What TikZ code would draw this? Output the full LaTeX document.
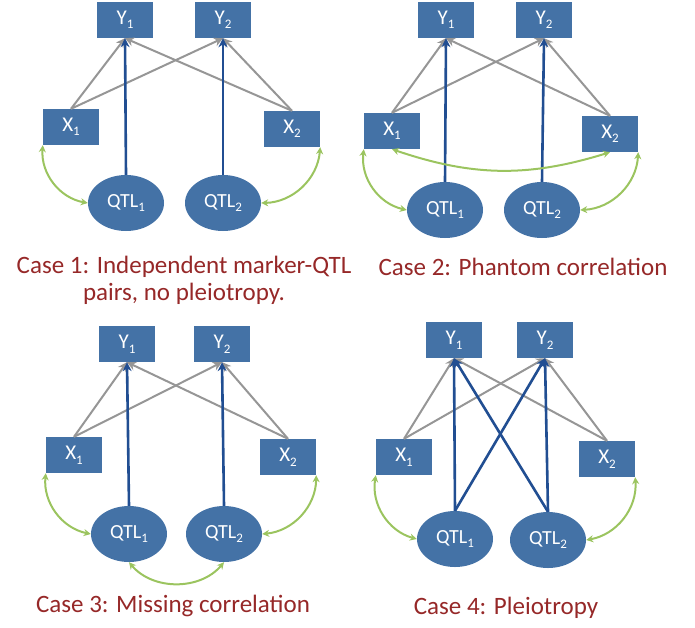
\documentclass[tikz,border=0pt]{standalone}
\usepackage{fontspec}
\setmainfont{Carlito}
\usetikzlibrary{arrows.meta,shapes.geometric}
\definecolor{boxblue}{RGB}{68,114,166}
\definecolor{arrblue}{RGB}{33,78,146}
\definecolor{arrgray}{RGB}{150,150,150}
\definecolor{corgreen}{RGB}{155,196,95}
\definecolor{capred}{RGB}{150,40,40}
\newcommand{\sbs}[1]{\raisebox{-0.45ex}{\fontsize{13}{13}\selectfont #1}}
\begin{document}
\begin{tikzpicture}[x=1pt,y=-1pt,
  box/.style={rectangle, fill=boxblue, minimum width=56pt, minimum height=36pt, inner sep=0pt, text=white, font=\fontsize{21}{21}\selectfont},
  qtl/.style={ellipse, fill=boxblue, minimum width=76pt, minimum height=56pt, inner sep=0pt, text=white, font=\fontsize{20}{20}\selectfont},
  gr/.style={draw=arrgray, line width=2pt, -{Stealth[length=9pt,width=9pt]}},
  bl/.style={draw=arrblue, line width=2.6pt, -{Stealth[length=9pt,width=9pt]}},
  cor/.style={draw=corgreen, line width=2pt, {Stealth[length=7pt,width=7pt]}-{Stealth[length=7pt,width=7pt]}},
  captext/.style={text=capred, font=\fontsize{25}{27}\selectfont, anchor=base, inner sep=0pt}
]
\useasboundingbox (0,0) rectangle (695,627);

% ---------- Panel 1 ----------
\node[box] (aY1) at (125,20) {Y\sbs{1}};
\node[box] (aY2) at (223,20) {Y\sbs{2}};
\node[box] (aX1) at (71,127) {X\sbs{1}};
\node[box] (aX2) at (292,129) {X\sbs{2}};
\node[qtl] (aQ1) at (126,203) {QTL\sbs{1}};
\node[qtl] (aQ2) at (223,203) {QTL\sbs{2}};
\draw[gr] (aX1.north) -- (aY1.south);
\draw[gr] (aX1.north) -- (aY2.south);
\draw[gr] (aX2.north) -- (aY1.south);
\draw[gr] (aX2.north) -- (aY2.south);
\draw[bl] (aQ1.north) -- (aY1.south);
\draw[bl] (aQ2.north) -- (aY2.south);
\draw[cor] (aX1.south west) to[bend right=42] (aQ1.west);
\draw[cor] (aX2.south east) to[bend left=42] (aQ2.east);
\node[captext] (aC1) at (184,273) {Case 1: Independent marker-QTL};
\node[captext] (aC2) at (184,300) {pairs, no pleiotropy.};

% ---------- Panel 2 ----------
\node[box] (bY1) at (446,20) {Y\sbs{1}};
\node[box] (bY2) at (544,20) {Y\sbs{2}};
\node[box] (bX1) at (392,131) {X\sbs{1}};
\node[box] (bX2) at (610,134) {X\sbs{2}};
\node[qtl] (bQ1) at (445,210) {QTL\sbs{1}};
\node[qtl] (bQ2) at (542,210) {QTL\sbs{2}};
\draw[gr] (bX1.north) -- (bY1.south);
\draw[gr] (bX1.north) -- (bY2.south);
\draw[gr] (bX2.north) -- (bY1.south);
\draw[gr] (bX2.north) -- (bY2.south);
\draw[bl] (bQ1.north) -- (bY1.south);
\draw[bl] (bQ2.north) -- (bY2.south);
\draw[cor] (bX1.south west) to[bend right=42] (bQ1.west);
\draw[cor] (bX2.south east) to[bend left=42] (bQ2.east);
\draw[cor] (bX1.south) to[bend right=18] (bX2.south);
\node[captext] (bC1) at (523,275) {Case 2: Phantom correlation};

% ---------- Panel 3 ----------
\node[box] (cY1) at (127,344) {Y\sbs{1}};
\node[box] (cY2) at (222,344) {Y\sbs{2}};
\node[box] (cX1) at (74,455) {X\sbs{1}};
\node[box] (cX2) at (288,457) {X\sbs{2}};
\node[qtl] (cQ1) at (129,534) {QTL\sbs{1}};
\node[qtl] (cQ2) at (224,534) {QTL\sbs{2}};
\draw[gr] (cX1.north) -- (cY1.south);
\draw[gr] (cX1.north) -- (cY2.south);
\draw[gr] (cX2.north) -- (cY1.south);
\draw[gr] (cX2.north) -- (cY2.south);
\draw[bl] (cQ1.north) -- (cY1.south);
\draw[bl] (cQ2.north) -- (cY2.south);
\draw[cor] (cX1.south west) to[bend right=42] (cQ1.west);
\draw[cor] (cX2.south east) to[bend left=42] (cQ2.east);
\draw[cor] (cQ1.south) to[bend right=50] (cQ2.south);
\node[captext] (cC1) at (173,612) {Case 3: Missing correlation};

% ---------- Panel 4 ----------
\node[box] (dY1) at (454,340) {Y\sbs{1}};
\node[box] (dY2) at (545,340) {Y\sbs{2}};
\node[box] (dX1) at (404,457) {X\sbs{1}};
\node[box] (dX2) at (607,459) {X\sbs{2}};
\node[qtl] (dQ1) at (455,539) {QTL\sbs{1}};
\node[qtl] (dQ2) at (548,540) {QTL\sbs{2}};
\draw[gr] (dX1.north) -- (dY1.south);
\draw[gr] (dX1.north) -- (dY2.south);
\draw[gr] (dX2.north) -- (dY1.south);
\draw[gr] (dX2.north) -- (dY2.south);
\draw[bl] (dQ1.north) -- (dY1.south);
\draw[bl] (dQ1.north) -- (dY2.south);
\draw[bl] (dQ2.north) -- (dY2.south);
\draw[bl] (dQ2.north) -- (dY1.south);
\draw[cor] (dX1.south west) to[bend right=42] (dQ1.west);
\draw[cor] (dX2.south east) to[bend left=42] (dQ2.east);
\node[captext] (dC1) at (506,614) {Case 4: Pleiotropy};
\end{tikzpicture}
\end{document}
